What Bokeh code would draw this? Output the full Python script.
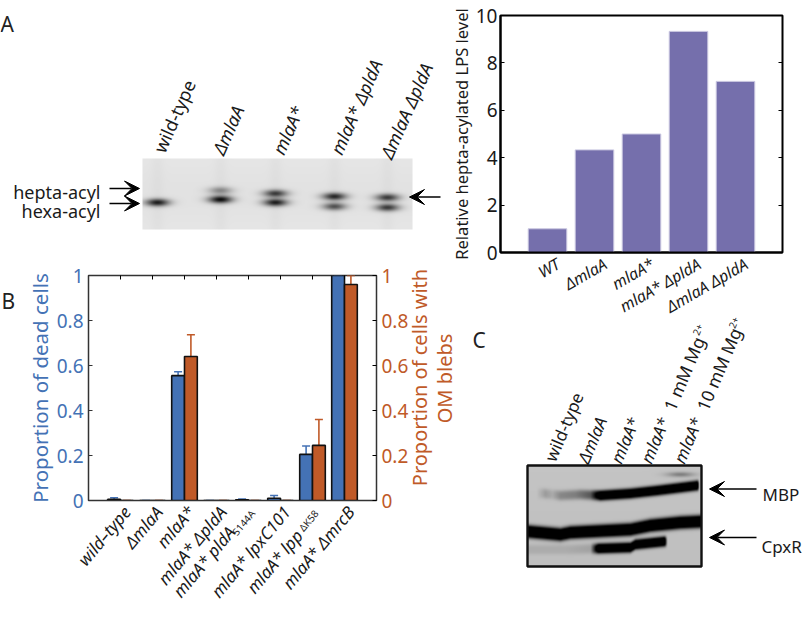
import numpy as np
from bokeh.plotting import figure
from bokeh.layouts import row, column
from bokeh.models import (Range1d, LinearAxis, FixedTicker, Label, Arrow, VeeHead, Whisker,
                          ColumnDataSource, TeeHead)
from bokeh.embed import file_html
from bokeh.resources import INLINE

FONT = "Noto Sans"
PURPLE = "#756fac"
BLUE = "#4472b5"
ORANGE = "#c05a28"

# Panel A, bar chart
a_labels = ["WT", "ΔmlaA", "mlaA*", "mlaA* ΔpldA", "ΔmlaA ΔpldA"]
a_values = [1.0, 4.33, 5.0, 9.33, 7.22]
a_yticks = [0, 2, 4, 6, 8, 10]

# Panel B, grouped bars
b_labels = ["wild–type", "ΔmlaA", "mlaA*", "mlaA* ΔpldA", "mlaA* pldA", "mlaA* lpxC101", "mlaA* lpp", "mlaA* ΔmrcB"]
b_dead = [0.005, 0.0, 0.555, 0.0, 0.003, 0.01, 0.205, 1.0]
b_dead_hi = [0.012, 0.0, 0.572, 0.0, 0.006, 0.022, 0.242, 1.0]
b_blebs = [0.0, 0.0, 0.64, 0.0, 0.0, 0.0, 0.245, 0.96]
b_blebs_hi = [0.0, 0.0, 0.737, 0.0, 0.0, 0.0, 0.36, 1.0]
b_yticks = [0, 0.2, 0.4, 0.6, 0.8, 1]
b_yticklabels = ["0", "0.2", "0.4", "0.6", "0.8", "1"]

# Blot panels: lanes and band read from the gels
blot_a_lanes = ["wild-type", "ΔmlaA", "mlaA*", "mlaA* ΔpldA", "ΔmlaA ΔpldA"]
blot_a_x = [157, 220, 275, 334, 387]
blot_a_upper = [(190, 0.0), (190, 0.38), (193, 0.72), (196, 0.80), (197, 0.72)]
blot_a_lower = [(202, 0.85), (199, 0.92), (202, 0.85), (206, 0.62), (207, 0.72)]


def canvas(width, height, x0, x1, y0, y1):
    p = figure(width=width, height=height, x_range=Range1d(x0, x1), y_range=Range1d(y1, y0),
               toolbar_location=None, output_backend="svg", min_border=0, frame_align=False,
               border_fill_color=None, background_fill_color=None, outline_line_color=None)
    p.axis.visible = False
    p.grid.visible = False
    return p


def put(p, x, y, text, size=16, angle=0, italic=False, color="#1a1a1a", align="left", base="alphabetic"):
    p.add_layout(Label(x=x, y=y, text=text, text_font=FONT, text_font_size=f"{size}px", text_color=color,
                       angle=angle, angle_units="deg", text_align=align, text_baseline=base,
                       text_font_style="italic" if italic else "normal"))


def arrow(p, x0, x1, y):
    p.add_layout(Arrow(x_start=x0, x_end=x1, y_start=y, y_end=y, line_color="black", line_width=1.6,
                       end=VeeHead(size=15, fill_color="black", line_color="black")))


def to_rgba(g):
    v = (np.clip(g, 0, 1) * 255).astype(np.uint32)
    return (255 << 24) | (v << 16) | (v << 8) | v


# ---- blot A canvas, also carrying the loose labels of the left column
blotA = canvas(460, 617, 0, 460, 0, 617)
yy, xx = np.mgrid[158:229, 142:412] + 0.5
dark = 0.03 * np.exp(-((yy - 194) / 40) ** 2)
for lx, up, lo in zip(blot_a_x, blot_a_upper, blot_a_lower):
    dark = dark + 0.02 * np.exp(-((xx - lx) / 6.0) ** 2)
    for by, amp in (up, lo):
        dark = dark + amp * np.exp(-((xx - lx) / 12.0) ** 2 - ((yy - by) / 3.7) ** 2)
img = to_rgba(0.915 - 0.9 * dark)
blotA.image_rgba(image=[img], x=142, y=158, dw=270, dh=71)
put(blotA, 0, 23, "A", 21, color="#222")
put(blotA, 100, 191, "hepta-acyl", 18, align="right")
put(blotA, 100, 210, "hexa-acyl", 18, align="right")
arrow(blotA, 109, 139, 188)
arrow(blotA, 109, 139, 203)
arrow(blotA, 440, 409, 196.5)
for (lx, ly), name in zip([(158, 151), (217, 153), (277, 153), (335, 153), (385, 157)], blot_a_lanes):
    put(blotA, lx, ly, name, 18, angle=66, italic=name != "wild-type")
put(blotA, 1, 300, "B", 21, color="#222")
put(blotA, 418.5, 377, "Proportion of cells with", 20, angle=90, color=ORANGE, align="center", base="middle")
put(blotA, 444, 378, "OM blebs", 20, angle=90, color=ORANGE, align="center", base="middle")
put(blotA, 243, 522, "S144A", 10, angle=50, align="center", base="middle")
put(blotA, 308, 520, "ΔK58", 10, angle=50, align="center", base="middle")

# ---- panel B
pB = figure(width=460, height=355, x_range=Range1d(0, 9), y_range=Range1d(0, 1),
            toolbar_location=None, output_backend="svg", frame_align=False,
            min_border_left=88, min_border_right=84, min_border_top=13, min_border_bottom=117,
            border_fill_color=None, background_fill_color=None,
            outline_line_color="#333333", outline_line_width=1.5)
pB.grid.visible = False
pB.extra_y_ranges = {"r": Range1d(0, 1)}
xs = np.arange(1, 9)
src = ColumnDataSource(dict(xb=xs - 0.2, xo=xs + 0.2, dead=b_dead, dead_hi=b_dead_hi,
                            blebs=b_blebs, blebs_hi=b_blebs_hi))
pB.add_layout(Whisker(base="xb", lower="dead", upper="dead_hi", source=src, line_color=BLUE, line_width=1.6,
                      upper_head=TeeHead(size=8, line_color=BLUE, line_width=1.6), lower_head=None))
pB.add_layout(Whisker(base="xo", lower="blebs", upper="blebs_hi", source=src, line_color=ORANGE, line_width=1.6,
                      upper_head=TeeHead(size=8, line_color=ORANGE, line_width=1.6), lower_head=None))
pB.vbar(x="xb", top="dead", width=0.4, bottom=0, source=src, fill_color=BLUE, line_color="#111111", line_width=1.6)
pB.vbar(x="xo", top="blebs", width=0.4, bottom=0, source=src, fill_color=ORANGE, line_color="#111111", line_width=1.6)

ax = pB.xaxis[0]
b_label_ticks = [1.2, 2.2, 3.2, 4.2, 5.0, 6.2, 7.2, 8.2]
ax.ticker = FixedTicker(ticks=b_label_ticks)
over = dict(zip(b_label_ticks, b_labels))
over[b_label_ticks[4]] = "mlaA* pldA" + "\u00a0" * 6
over[b_label_ticks[6]] = "mlaA* lpp" + "\u00a0" * 7
ax.major_label_overrides = over
ax.major_label_orientation = np.radians(50)
ax.major_label_text_font = FONT
ax.major_label_text_font_size = "17px"
ax.major_label_text_font_style = "italic"
ax.major_label_text_color = "#1a1a1a"
ax.major_tick_in = 0
ax.major_tick_out = 0
ax.minor_tick_line_color = None
ax.axis_line_color = "#333333"
ax.major_label_standoff = 8

ay = pB.yaxis[0]
ay.ticker = FixedTicker(ticks=b_yticks)
ay.major_label_overrides = {t: s for t, s in zip(b_yticks, b_yticklabels)}
ay.major_label_text_font = FONT
ay.major_label_text_font_size = "19px"
ay.major_label_text_color = BLUE
ay.major_tick_in = 4
ay.major_tick_out = 0
ay.minor_tick_line_color = None
ay.axis_line_color = "#333333"
ay.major_tick_line_color = "#333333"
ay.axis_label = "Proportion of dead cells"
ay.axis_label_text_font = FONT
ay.axis_label_text_font_size = "20.5px"
ay.axis_label_text_font_style = "normal"
ay.axis_label_text_color = BLUE
ay.axis_label_standoff = 0

ar = LinearAxis(y_range_name="r", ticker=FixedTicker(ticks=b_yticks),
                major_label_overrides={t: s for t, s in zip(b_yticks, b_yticklabels)},
                major_label_text_font=FONT, major_label_text_font_size="19px", major_label_text_color=ORANGE,
                major_tick_in=4, major_tick_out=0, minor_tick_line_color=None, axis_line_color="#333333")
pB.add_layout(ar, "right")

at = LinearAxis(ticker=FixedTicker(ticks=[int(i) for i in xs]),
                major_label_overrides={int(i): "" for i in xs},
                major_label_text_font_size="1px", major_tick_in=4, major_tick_out=0, minor_tick_line_color=None,
                axis_line_color=None, major_label_standoff=0)
pB.add_layout(at, "above")
pB.margin = (-355, 0, 0, 0)

# ---- panel A bar chart
pA = figure(width=365, height=340, x_range=Range1d(0, 6), y_range=Range1d(0, 10),
            toolbar_location=None, output_backend="svg", frame_align=False,
            min_border_left=60, min_border_right=23, min_border_top=15, min_border_bottom=88,
            border_fill_color=None, background_fill_color=None,
            outline_line_color="black", outline_line_width=2)
pA.grid.visible = False
pA.vbar(x=[1, 2, 3, 4, 5], top=a_values, width=0.82, fill_color=PURPLE, line_color="#c9c7e0", line_width=1)
ax = pA.xaxis[0]
a_label_ticks = [1.23, 2.23, 3.23, 4.23, 5.23]
ax.ticker = FixedTicker(ticks=a_label_ticks)
ax.major_label_overrides = dict(zip(a_label_ticks, a_labels))
ax.major_label_orientation = np.radians(30)
ax.major_label_text_font = FONT
ax.major_label_text_font_size = "16px"
ax.major_label_text_font_style = "italic"
ax.major_label_text_color = "#1a1a1a"
ax.major_tick_in = 0
ax.major_tick_out = 0
ax.minor_tick_line_color = None
ax.axis_line_color = "black"
ax.axis_line_width = 2
ax.major_label_standoff = 10
ay = pA.yaxis[0]
ay.ticker = FixedTicker(ticks=a_yticks)
ay.major_label_text_font = FONT
ay.major_label_text_font_size = "19px"
ay.major_label_text_color = "#1a1a1a"
ay.major_tick_in = 4
ay.major_tick_out = 0
ay.minor_tick_line_color = None
ay.axis_line_width = 2
ay.axis_label = "Relative hepta-acylated LPS level"
ay.axis_label_text_font = FONT
ay.axis_label_text_font_size = "16.5px"
ay.axis_label_text_font_style = "normal"
ay.axis_label_text_color = "#1a1a1a"
ay.axis_label_standoff = 0
ay.major_label_standoff = 3
ar2 = LinearAxis(ticker=FixedTicker(ticks=a_yticks), major_label_overrides={t: "" for t in a_yticks},
                 major_label_text_font_size="1px", major_tick_in=4,
                 major_tick_out=0, minor_tick_line_color=None, axis_line_color=None, major_label_standoff=0)
pA.add_layout(ar2, "right")

# ---- panel C canvas
pC = canvas(365, 317, 440, 805, 300, 617)
yy, xx = np.mgrid[465:566, 527:701] + 0.5


def band(xp, yp, th, ax_pts, amp_pts):
    c = np.interp(xx, xp, yp)
    a = np.interp(xx, ax_pts, amp_pts)
    return a * np.exp(-(np.abs(yy - c) / th) ** 3)


d = band([527, 543, 560, 580, 600, 630, 657, 697, 701], [493, 493, 495, 494, 495, 493, 490, 485, 485], 5.0,
         [527, 536, 545, 552, 560, 575, 590, 600, 697, 699], [0, 0, .2, .12, .3, .35, .55, 1.4, 1.4, 0])
d = d + band([527, 560, 570, 630, 650, 680, 701], [531, 534, 532, 529, 525, 522, 521], 6.2,
             [527, 701], [1.5, 1.5])
d = d + band([570, 598, 630, 635, 664], [549, 548, 547, 544, 541], 5.0,
             [565, 590, 598, 664, 667], [0.1, 0.15, 1.4, 1.4, 0])
d = d + 0.35 * np.exp(-((xx - 680) / 14) ** 2 - ((yy - 474) / 2.5) ** 2)
img = to_rgba(0.77 - 0.77 * d - 0.02 * (yy - 465) / 100)
pC.image_rgba(image=[img], x=527, y=465, dw=174, dh=101)
pC.quad(left=[527], right=[701], top=[566], bottom=[465], fill_color=None, line_color="#111111", line_width=2.4)
put(pC, 472, 339, "C", 21, color="#222")
put(pC, 762, 494, "MBP", 17)
put(pC, 761, 546, "CpxR", 17)
arrow(pC, 756, 709, 488.5)
arrow(pC, 756, 709, 537)
put(pC, 549, 460, "wild-type", 17, angle=67)
put(pC, 582, 462, "ΔmlaA", 17, angle=67, italic=True)
put(pC, 615, 462, "mlaA*", 17, angle=67, italic=True)
for x0, tail, tx, ty, sx, sy in [(645, "1 mM Mg", 668, 409, 697, 329), (678, "10 mM Mg", 701, 409, 733, 322)]:
    put(pC, x0, 462, "mlaA*", 17, angle=67, italic=True)
    put(pC, tx, ty, tail, 17.5, angle=67)
    put(pC, sx, sy, "2+", 10, angle=67, align="center", base="middle")

left = column(blotA, pB, spacing=0)
pC.margin = (-40, 0, 0, 0)
right = column(pA, pC, spacing=0, margin=(0, 0, 0, -20))
root = row(left, right, spacing=0)
open("out.html", "w").write(file_html(root, INLINE))
